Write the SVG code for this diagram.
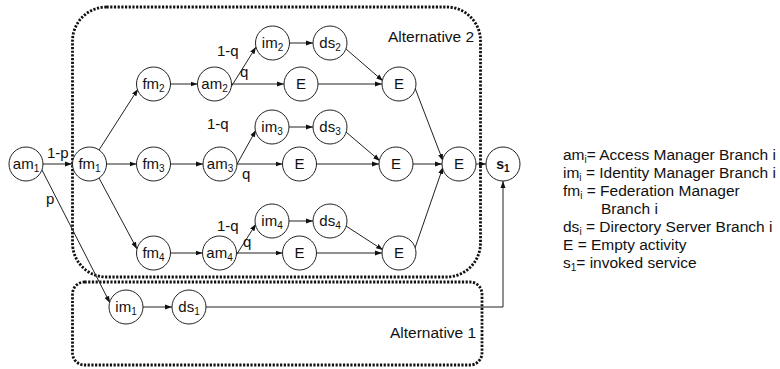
<svg xmlns="http://www.w3.org/2000/svg" width="780" height="369" viewBox="0 0 780 369">
<defs>
<marker id="ah" markerUnits="userSpaceOnUse" markerWidth="8" markerHeight="6" refX="7" refY="3" orient="auto">
<path d="M0,0.5 L7,3 L0,5.5 Z" fill="#111"/>
</marker>
<style>
.n circle{fill:#fff;stroke:#222;stroke-width:1}
.n text{font-family:"Liberation Sans",Arial,sans-serif;font-size:15px;fill:#111;text-anchor:middle}
.sb{font-size:10px}
.c line,.c polyline{stroke:#222;stroke-width:1;fill:none;marker-end:url(#ah)}
.lbl{font-family:"Liberation Sans",Arial,sans-serif;font-size:15px;fill:#111}
.box{fill:none;stroke:#111;stroke-width:2.8;stroke-dasharray:2.2 1.5}
.leg{font-family:"Liberation Sans",Arial,sans-serif;font-size:15.5px;fill:#111}
.ls{font-size:10px}
</style>
</defs>
<rect class="box" x="72.5" y="7" width="408" height="270" rx="34" ry="34"/>
<rect class="box" x="72.5" y="282" width="409.5" height="83" rx="12" ry="12"/>
<text class="lbl" x="388" y="42" style="font-size:15.5px">Alternative 2</text>
<text class="lbl" x="390" y="338" style="font-size:15.5px">Alternative 1</text>
<g class="c" id="connectors">
<line x1="43" y1="164" x2="72" y2="164"/>
<line x1="42" y1="170" x2="110" y2="303"/>
<line x1="99" y1="150" x2="138" y2="89"/>
<line x1="107" y1="164" x2="136.5" y2="164"/>
<line x1="99" y1="178" x2="137" y2="249"/>
<line x1="170.5" y1="84" x2="197.5" y2="84"/>
<line x1="170.5" y1="164" x2="203" y2="164"/>
<line x1="170.5" y1="253" x2="202.5" y2="253"/>
<line x1="231" y1="87" x2="256" y2="47"/>
<line x1="231.5" y1="84" x2="284" y2="84"/>
<line x1="236" y1="166" x2="256" y2="130"/>
<line x1="237" y1="164" x2="282.5" y2="164"/>
<line x1="235" y1="257" x2="256" y2="224"/>
<line x1="236.5" y1="253" x2="282.5" y2="253"/>
<line x1="289.5" y1="43" x2="313" y2="43"/>
<line x1="289" y1="127" x2="313" y2="127"/>
<line x1="289" y1="221" x2="313" y2="221"/>
<line x1="346" y1="49" x2="383" y2="81"/>
<line x1="346" y1="132" x2="380" y2="161"/>
<line x1="346" y1="226" x2="383" y2="250"/>
<line x1="318" y1="84" x2="382" y2="84"/>
<line x1="316.5" y1="164" x2="379" y2="164"/>
<line x1="316.5" y1="253" x2="382" y2="253"/>
<line x1="415" y1="88" x2="443" y2="161"/>
<line x1="413" y1="164" x2="442" y2="164"/>
<line x1="415" y1="248" x2="443" y2="167"/>
<line x1="476" y1="164" x2="486" y2="164"/>
<line x1="143" y1="307" x2="172" y2="307"/>
<polyline points="206,307 503,307 503,181"/>
</g>
<g id="edge-labels">
<text class="lbl" x="47" y="158">1-p</text>
<text class="lbl" x="46" y="204">p</text>
<text class="lbl" x="217" y="56">1-q</text>
<text class="lbl" x="240" y="77">q</text>
<text class="lbl" x="207" y="129">1-q</text>
<text class="lbl" x="242" y="179">q</text>
<text class="lbl" x="217" y="231">1-q</text>
<text class="lbl" x="243" y="247">q</text>
</g>
<g class="n" id="am1"><circle cx="26" cy="164" r="17"/><text x="26" y="169">am<tspan class="sb" dy="3">1</tspan></text></g>
<g class="n" id="fm1"><circle cx="89.5" cy="164" r="17"/><text x="89.5" y="169">fm<tspan class="sb" dy="3">1</tspan></text></g>
<g class="n" id="fm2"><circle cx="153.5" cy="84" r="17"/><text x="153.5" y="89">fm<tspan class="sb" dy="3">2</tspan></text></g>
<g class="n" id="fm3"><circle cx="153.5" cy="164" r="17"/><text x="153.5" y="169">fm<tspan class="sb" dy="3">3</tspan></text></g>
<g class="n" id="fm4"><circle cx="153.5" cy="253" r="17"/><text x="153.5" y="258">fm<tspan class="sb" dy="3">4</tspan></text></g>
<g class="n" id="am2"><circle cx="214.5" cy="84" r="17"/><text x="214.5" y="89">am<tspan class="sb" dy="3">2</tspan></text></g>
<g class="n" id="am3"><circle cx="220" cy="164" r="17"/><text x="220" y="169">am<tspan class="sb" dy="3">3</tspan></text></g>
<g class="n" id="am4"><circle cx="219.5" cy="253" r="17"/><text x="219.5" y="258">am<tspan class="sb" dy="3">4</tspan></text></g>
<g class="n" id="im2"><circle cx="272.5" cy="43" r="17"/><text x="272.5" y="48">im<tspan class="sb" dy="3">2</tspan></text></g>
<g class="n" id="ds2"><circle cx="330" cy="43" r="17"/><text x="330" y="48">ds<tspan class="sb" dy="3">2</tspan></text></g>
<g class="n" id="e2"><circle cx="301" cy="84" r="17"/><text x="301" y="89">E</text></g>
<g class="n" id="em2"><circle cx="399" cy="84" r="17"/><text x="399" y="89">E</text></g>
<g class="n" id="im3"><circle cx="272" cy="127" r="17"/><text x="272" y="132">im<tspan class="sb" dy="3">3</tspan></text></g>
<g class="n" id="ds3"><circle cx="330" cy="127" r="17"/><text x="330" y="132">ds<tspan class="sb" dy="3">3</tspan></text></g>
<g class="n" id="e3"><circle cx="299.5" cy="164" r="17"/><text x="299.5" y="169">E</text></g>
<g class="n" id="em3"><circle cx="396" cy="164" r="17"/><text x="396" y="169">E</text></g>
<g class="n" id="im4"><circle cx="272" cy="221" r="17"/><text x="272" y="226">im<tspan class="sb" dy="3">4</tspan></text></g>
<g class="n" id="ds4"><circle cx="330" cy="221" r="17"/><text x="330" y="226">ds<tspan class="sb" dy="3">4</tspan></text></g>
<g class="n" id="e4"><circle cx="299.5" cy="253" r="17"/><text x="299.5" y="258">E</text></g>
<g class="n" id="em4"><circle cx="399" cy="253" r="17"/><text x="399" y="258">E</text></g>
<g class="n" id="ef"><circle cx="459" cy="164" r="17"/><text x="459" y="169">E</text></g>
<g class="n" id="s1"><circle cx="503" cy="164" r="17"/><text x="503" y="169" font-weight="bold" style="font-size:14px">s<tspan class="sb" dy="3">1</tspan></text></g>
<g class="n" id="im1"><circle cx="126" cy="307" r="17"/><text x="126" y="312">im<tspan class="sb" dy="3">1</tspan></text></g>
<g class="n" id="ds1"><circle cx="189" cy="307" r="17"/><text x="189" y="312">ds<tspan class="sb" dy="3">1</tspan></text></g>
<g id="legend" class="leg">
<text class="leg" x="563" y="160">am<tspan class="ls" dy="3">i</tspan><tspan dy="-3">= Access Manager Branch i</tspan></text>
<text class="leg" x="563" y="178">im<tspan class="ls" dy="3">i</tspan><tspan dy="-3"> = Identity Manager Branch i</tspan></text>
<text class="leg" x="563" y="196">fm<tspan class="ls" dy="3">i</tspan><tspan dy="-3"> = Federation Manager</tspan></text>
<text class="leg" x="601" y="214">Branch i</text>
<text class="leg" x="563" y="232">ds<tspan class="ls" dy="3">i</tspan><tspan dy="-3"> = Directory Server Branch i</tspan></text>
<text class="leg" x="563" y="250">E = Empty activity</text>
<text class="leg" x="563" y="268">s<tspan class="ls" dy="3">1</tspan><tspan dy="-3">= invoked service</tspan></text>
</g>
</svg>
